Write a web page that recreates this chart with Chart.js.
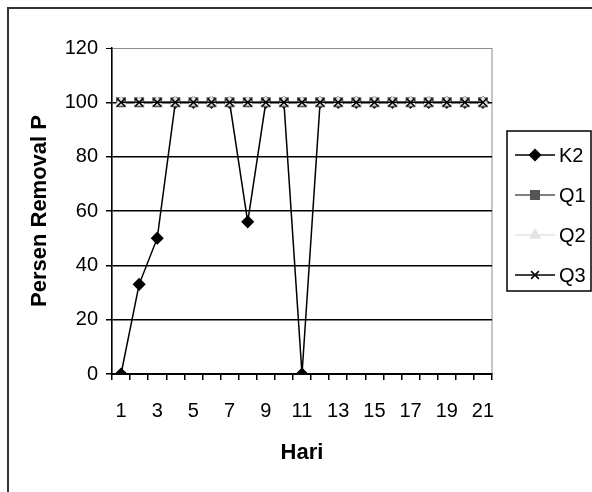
<!DOCTYPE html>
<html>
<head>
<meta charset="utf-8">
<script src="https://cdn.jsdelivr.net/npm/chart.js@4/dist/chart.umd.min.js"></script>
<style>
  html, body { margin: 0; padding: 0; background: #fff; }
  #wrap { width: 592px; height: 492px; }
</style>
</head>
<body>
<div id="wrap"><canvas id="lineChart" width="592" height="492"></canvas></div>
<script>
// data
const days = ['1','2','3','4','5','6','7','8','9','10','11','12','13','14','15','16','17','18','19','20','21'];
const k2 = [0, 33, 50, 100, 100, 100, 100, 56, 100, 100, 0, 100, 100, 100, 100, 100, 100, 100, 100, 100, 100];
const q1 = [100, 100, 100, 100, 100, 100, 100, 100, 100, 100, 100, 100, 100, 100, 100, 100, 100, 100, 100, 100, 100];
const q2 = [100, 100, 100, 100, 100, 100, 100, 100, 100, 100, 100, 100, 100, 100, 100, 100, 100, 100, 100, 100, 100];
const q3 = [100, 100, 100, 100, 100, 100, 100, 100, 100, 100, 100, 100, 100, 100, 100, 100, 100, 100, 100, 100, 100];
const yTicks = [0, 20, 40, 60, 80, 100, 120];

// the source looks squeezed sideways, so horizontal text uses the narrow face
const NARROW = "'Liberation Sans Narrow', 'Arial Narrow', 'Liberation Sans', Arial, sans-serif";
const FONT = "'Liberation Sans', Arial, sans-serif";

// gray plot border + outer frame
const framePlugin = {
    id: 'frame',
    beforeDraw(chart) {
        const ctx = chart.ctx;
        const a = chart.chartArea;
        ctx.save();
        ctx.fillStyle = '#fff';
        ctx.fillRect(0, 0, chart.width, chart.height);
        ctx.strokeStyle = '#333';
        ctx.lineWidth = 2;
        ctx.beginPath();
        ctx.moveTo(8, chart.height);
        ctx.lineTo(8, 8);
        ctx.lineTo(chart.width, 8);
        ctx.stroke();
        ctx.strokeStyle = '#8c8c8c';
        ctx.lineWidth = 1;
        ctx.strokeRect(a.left, a.top + 0.5, a.right - a.left, a.bottom - a.top);
        ctx.restore();
    }
};

// legend box on the right with line + marker samples
const legendPlugin = {
    id: 'sideLegend',
    afterDraw(chart) {
        const ctx = chart.ctx;
        ctx.save();
        ctx.strokeStyle = '#000';
        ctx.lineWidth = 1.5;
        ctx.strokeRect(507, 131, 84, 160);
        chart.data.datasets.forEach((ds, i) => {
            const y = 155 + i * 40;
            ctx.strokeStyle = ds.borderColor;
            ctx.lineWidth = ds.borderWidth;
            ctx.beginPath();
            ctx.moveTo(515, y);
            ctx.lineTo(555, y);
            ctx.stroke();
            ctx.fillStyle = ds.pointBackgroundColor;
            ctx.strokeStyle = ds.pointBorderColor;
            Chart.helpers.drawPoint(ctx, {
                pointStyle: ds.pointStyle,
                radius: ds.pointRadius,
                rotation: 0,
                borderWidth: ds.borderWidth
            }, 535, y);
            ctx.fillStyle = '#000';
            ctx.font = '20px ' + NARROW;
            ctx.textBaseline = 'middle';
            ctx.textAlign = 'left';
            ctx.fillText(ds.label, 559, y + 1);
        });
        ctx.restore();
    }
};

const ctx = document.getElementById('lineChart').getContext('2d');
new Chart(ctx, {
    type: 'line',
    data: {
        labels: days,
        datasets: [{
            label: 'K2',
            data: k2,
            borderColor: '#000',
            borderWidth: 1.5,
            pointStyle: 'rectRot',
            pointRadius: 5.5,
            pointBackgroundColor: '#000',
            pointBorderColor: '#000',
            order: 4
        }, {
            label: 'Q1',
            data: q1,
            borderColor: '#555',
            borderWidth: 1.5,
            pointStyle: 'rect',
            pointRadius: 6,
            pointBackgroundColor: '#555',
            pointBorderColor: '#555',
            order: 3
        }, {
            label: 'Q2',
            data: q2,
            borderColor: '#e2e2e2',
            borderWidth: 1.5,
            pointStyle: 'triangle',
            pointRadius: 5.5,
            pointBackgroundColor: '#e2e2e2',
            pointBorderColor: '#e2e2e2',
            order: 2
        }, {
            label: 'Q3',
            data: q3,
            borderColor: '#000',
            borderWidth: 1.5,
            pointStyle: 'crossRot',
            pointRadius: 5.5,
            pointBackgroundColor: '#000',
            pointBorderColor: '#000',
            order: 1
        }]
    },
    options: {
        responsive: false,
        animation: false,
        events: [],
        layout: { padding: { top: 48, right: 100, left: 0, bottom: 0 } },
        plugins: {
            legend: { display: false },
            tooltip: { enabled: false }
        },
        elements: { line: { tension: 0 } },
        scales: {
            x: {
                offset: true,
                afterFit(scale) { scale.height = 118; },
                grid: {
                    offset: true,
                    drawOnChartArea: false,
                    color: '#000',
                    lineWidth: 1.5,
                    tickLength: 6
                },
                border: { color: '#000', width: 2 },
                ticks: {
                    autoSkip: false,
                    maxRotation: 0,
                    padding: 19,
                    color: '#000',
                    font: { family: NARROW, size: 20 },
                    callback: (v, i) => (i % 2 === 0 ? days[i] : '')
                },
                title: {
                    display: true,
                    text: 'Hari',
                    color: '#000',
                    font: { family: NARROW, size: 22, weight: 'bold' },
                    padding: { top: 0, bottom: 26 }
                }
            },
            y: {
                min: 0,
                max: 120,
                afterFit(scale) { scale.width = 112; },
                afterBuildTicks(scale) { scale.ticks = yTicks.map(v => ({ value: v })); },
                grid: {
                    color: c => (c.tick && c.tick.value === 120 ? '#8c8c8c' : '#000'),
                    tickColor: '#000',
                    lineWidth: c => (c.tick && c.tick.value === 120 ? 1 : 1.5),
                    tickLength: 6
                },
                border: { color: '#000', width: 1.5 },
                ticks: {
                    padding: 8,
                    color: '#000',
                    font: { family: NARROW, size: 20 }
                },
                title: {
                    display: true,
                    text: 'Persen Removal P',
                    color: '#000',
                    font: { family: FONT, size: 22, weight: 'bold' },
                    padding: { top: 27, bottom: 0 }
                }
            }
        }
    },
    plugins: [framePlugin, legendPlugin]
});
</script>
</body>
</html>
